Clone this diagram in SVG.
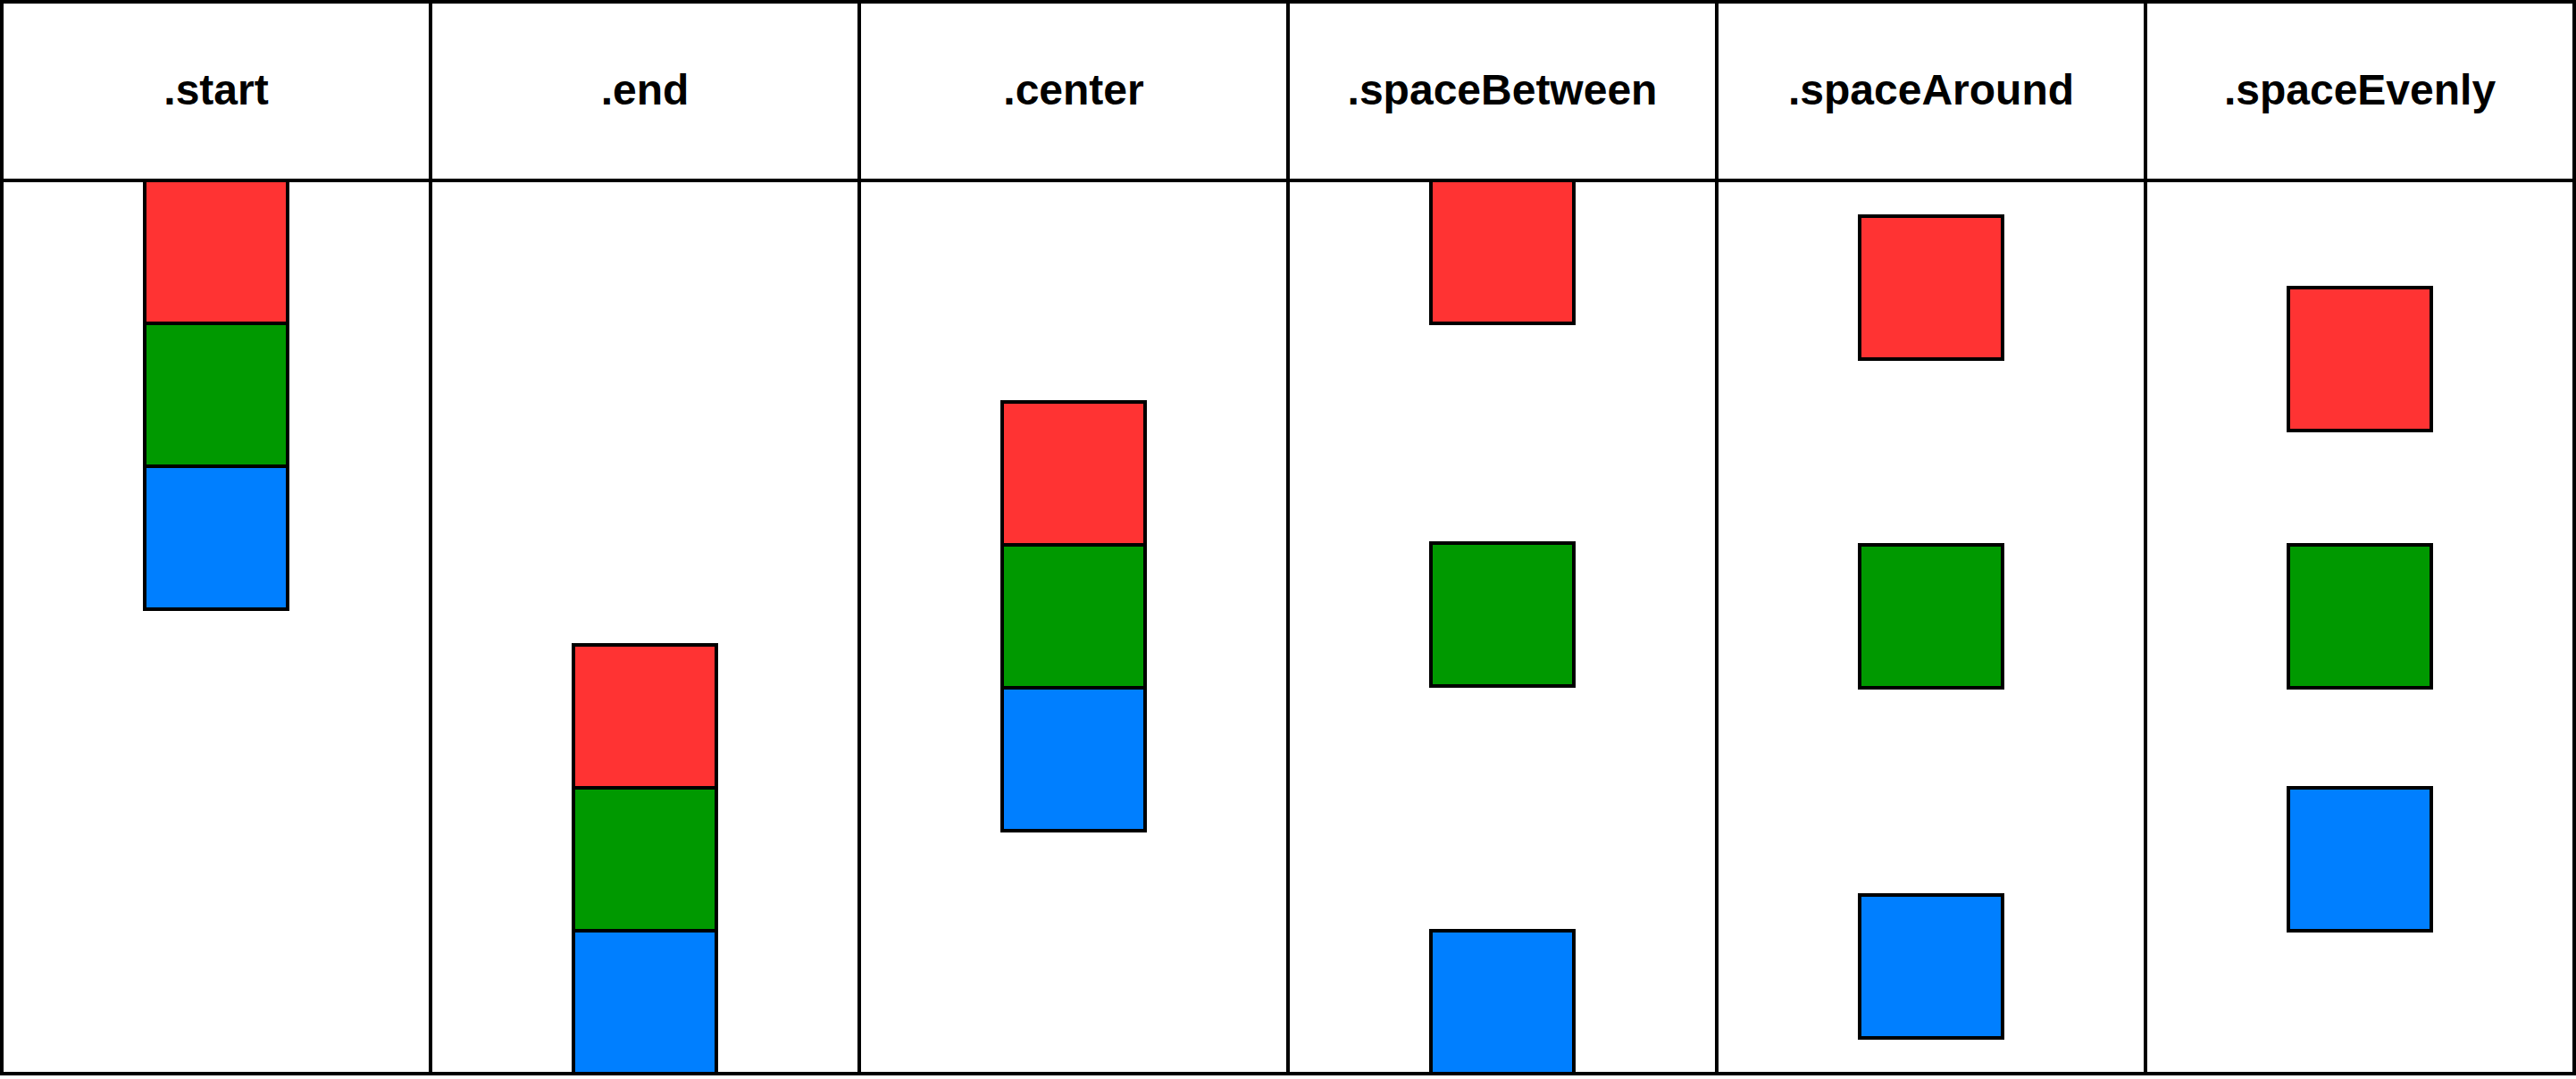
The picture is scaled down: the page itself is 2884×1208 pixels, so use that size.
<svg xmlns="http://www.w3.org/2000/svg" width="2884" height="1208" viewBox="0 0 2884 1208">
<style>
.cell{fill:#FFFFFF;stroke:#000000;stroke-width:4}
.box{stroke:#000000;stroke-width:4}
.r{fill:#FF3333}
.g{fill:#009900}
.b{fill:#007FFF}
.lbl{font-family:"Liberation Sans",Arial,Helvetica,sans-serif;font-weight:bold;font-size:48px;fill:#000000;text-anchor:middle}
</style>
<rect x="0" y="0" width="2884" height="1208" fill="#FFFFFF"/>
<g id="col-start">
<rect class="cell" x="2" y="202" width="480" height="1000"/>
<rect class="cell" x="2" y="2" width="480" height="200"/>
<text class="lbl" x="242" y="117">.start</text>
</g>
<g id="col-end">
<rect class="cell" x="482" y="202" width="480" height="1000"/>
<rect class="cell" x="482" y="2" width="480" height="200"/>
<text class="lbl" x="722" y="117">.end</text>
</g>
<g id="col-center">
<rect class="cell" x="962" y="202" width="480" height="1000"/>
<rect class="cell" x="962" y="2" width="480" height="200"/>
<text class="lbl" x="1202" y="117">.center</text>
</g>
<g id="col-spaceBetween">
<rect class="cell" x="1442" y="202" width="480" height="1000"/>
<rect class="cell" x="1442" y="2" width="480" height="200"/>
<text class="lbl" x="1682" y="117">.spaceBetween</text>
</g>
<g id="col-spaceAround">
<rect class="cell" x="1922" y="202" width="480" height="1000"/>
<rect class="cell" x="1922" y="2" width="480" height="200"/>
<text class="lbl" x="2162" y="117">.spaceAround</text>
</g>
<g id="col-spaceEvenly">
<rect class="cell" x="2402" y="202" width="480" height="1000"/>
<rect class="cell" x="2402" y="2" width="480" height="200"/>
<text class="lbl" x="2642" y="117">.spaceEvenly</text>
</g>
<g id="start-red"><rect class="box r" x="162" y="202" width="160" height="160"/></g>
<g id="start-green"><rect class="box g" x="162" y="362" width="160" height="160"/></g>
<g id="start-blue"><rect class="box b" x="162" y="522" width="160" height="160"/></g>
<g id="end-red"><rect class="box r" x="642" y="722" width="160" height="160"/></g>
<g id="end-green"><rect class="box g" x="642" y="882" width="160" height="160"/></g>
<g id="end-blue"><rect class="box b" x="642" y="1042" width="160" height="160"/></g>
<g id="center-red"><rect class="box r" x="1122" y="450" width="160" height="160"/></g>
<g id="center-green"><rect class="box g" x="1122" y="610" width="160" height="160"/></g>
<g id="center-blue"><rect class="box b" x="1122" y="770" width="160" height="160"/></g>
<g id="between-red"><rect class="box r" x="1602" y="202" width="160" height="160"/></g>
<g id="between-green"><rect class="box g" x="1602" y="608" width="160" height="160"/></g>
<g id="between-blue"><rect class="box b" x="1602" y="1042" width="160" height="160"/></g>
<g id="around-red"><rect class="box r" x="2082" y="242" width="160" height="160"/></g>
<g id="around-green"><rect class="box g" x="2082" y="610" width="160" height="160"/></g>
<g id="around-blue"><rect class="box b" x="2082" y="1002" width="160" height="160"/></g>
<g id="evenly-red"><rect class="box r" x="2562" y="322" width="160" height="160"/></g>
<g id="evenly-green"><rect class="box g" x="2562" y="610" width="160" height="160"/></g>
<g id="evenly-blue"><rect class="box b" x="2562" y="882" width="160" height="160"/></g>
</svg>
